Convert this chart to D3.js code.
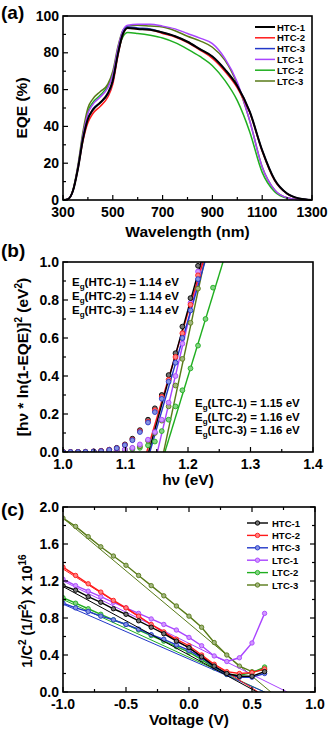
<!DOCTYPE html>
<html>
<head>
<meta charset="utf-8">
<script src="https://cdn.jsdelivr.net/npm/d3@7"></script>
<style>
  body { margin: 0; background: #fff; }
  svg text { font-family: Arial, "Liberation Sans", sans-serif; font-weight: bold; }
</style>
</head>
<body>
<div id="chart"></div>
<script>
// series names and colours
var names = ["HTC-1", "HTC-2", "HTC-3", "LTC-1", "LTC-2", "LTC-3"];
var colors = ["#000000", "#ff1a1a", "#2238c8", "#a944ff", "#1fae1f", "#587a18"];

// (a) EQE spectra
var wavelength = [300, 320, 340, 360, 380, 400, 420, 450, 480, 500, 520, 540, 560, 600, 650, 700, 750, 800, 850, 900, 950, 1000, 1050, 1100, 1150, 1200, 1250, 1300];
var eqeHTC1 = [0, 0.5, 5, 17, 33, 44, 49, 53, 58, 65, 79, 90, 93.5, 93, 92.5, 91, 89, 86, 82, 78, 71, 62, 48, 27, 11, 3.5, 0.8, 0];
var eqeHTC2 = [0, 0.5, 5, 17, 32, 42, 47, 51, 56, 63, 78, 90, 93.5, 93, 92.5, 90.5, 88.5, 85.5, 81.5, 77, 70, 61, 47.5, 26.5, 10.5, 3.3, 0.7, 0];
var eqeHTC3 = [0, 0.5, 5, 17, 33, 44, 49.5, 53, 57.5, 64.5, 79, 90.5, 94, 93.5, 93, 91, 89, 86, 82, 78, 71, 62, 48, 27, 11, 3.5, 0.8, 0];
var eqeLTC1 = [0, 0.5, 5, 18, 35, 47, 52, 56, 61, 68, 82, 92, 95, 95.5, 95.5, 94.5, 93, 90.5, 88, 85, 77, 64, 43, 18, 5.5, 1.2, 0.2, 0];
var eqeLTC2 = [0, 0.5, 5, 18, 35, 48, 53, 57, 62, 68, 80, 88.5, 91, 90.5, 89.5, 88, 85.5, 82, 78, 73, 65, 54, 37, 15, 4.5, 1, 0.2, 0];
var eqeLTC3 = [0, 0.5, 5.5, 19, 37, 50, 55, 59, 63, 70, 83, 92, 94.5, 95, 94.5, 94, 92, 89, 86.5, 83, 76, 63, 43, 18, 5.5, 1.2, 0.2, 0];

// (b) band gap plot
var photonE = [1.000, 1.012, 1.024, 1.036, 1.049, 1.061, 1.074, 1.086, 1.099, 1.111, 1.123, 1.136, 1.147, 1.158, 1.169, 1.180, 1.191, 1.204, 1.216, 1.228, 1.240];
var tHTC1 = [0, 0, 0, 0.001, 0.003, 0.006, 0.012, 0.022, 0.04, 0.07, 0.115, 0.17, 0.23, 0.30, 0.405, 0.52, 0.66, 0.81, 0.98];
var tHTC2 = [0, 0, 0, 0.001, 0.003, 0.006, 0.012, 0.02, 0.037, 0.065, 0.11, 0.16, 0.22, 0.29, 0.38, 0.50, 0.625, 0.775, 0.93];
var tHTC3 = [0, 0, 0, 0.001, 0.003, 0.005, 0.011, 0.02, 0.036, 0.062, 0.105, 0.155, 0.21, 0.28, 0.37, 0.47, 0.60, 0.745, 0.91];
var tLTC1 = [0, 0, 0, 0, 0.001, 0.002, 0.004, 0.008, 0.014, 0.022, 0.04, 0.065, 0.105, 0.17, 0.26, 0.40, 0.57, 0.785, 0.95];
var tLTC2 = [0, 0, 0, 0, 0.001, 0.002, 0.004, 0.006, 0.01, 0.015, 0.022, 0.035, 0.055, 0.11, 0.17, 0.24, 0.325, 0.44, 0.56, 0.70, 0.865];
var tLTC3 = [0, 0, 0, 0, 0.001, 0.002, 0.004, 0.007, 0.012, 0.02, 0.03, 0.06, 0.10, 0.165, 0.24, 0.35, 0.49, 0.68, 0.86];
// linear fits: x at y=0 and x at y=1
var fitFrom = [1.137, 1.134, 1.139, 1.151, 1.163, 1.161];
var fitTo = [1.221, 1.224, 1.227, 1.223, 1.256, 1.226];
var egHTC = ["1.14", "1.14", "1.14"];
var egLTC = ["1.15", "1.16", "1.16"];

// (c) Mott-Schottky
var voltage = [-1.0, -0.9, -0.8, -0.7, -0.6, -0.5, -0.4, -0.3, -0.2, -0.1, 0.0, 0.1, 0.2, 0.3, 0.4, 0.5, 0.6];
var msHTC1 = [1.15, 1.10, 1.03, 0.97, 0.90, 0.84, 0.77, 0.70, 0.63, 0.55, 0.48, 0.38, 0.28, 0.20, 0.17, 0.17, 0.22];
var msHTC2 = [1.35, 1.26, 1.17, 1.08, 0.99, 0.91, 0.82, 0.73, 0.65, 0.57, 0.50, 0.40, 0.30, 0.22, 0.20, 0.21, 0.25];
var msHTC3 = [0.96, 0.91, 0.87, 0.82, 0.78, 0.73, 0.68, 0.62, 0.57, 0.51, 0.45, 0.37, 0.27, 0.19, 0.16, 0.16, 0.20];
var msLTC1 = [1.22, 1.15, 1.09, 1.03, 0.97, 0.91, 0.85, 0.79, 0.73, 0.67, 0.59, 0.50, 0.39, 0.33, 0.37, 0.53, 0.85];
var msLTC2 = [1.02, 0.96, 0.90, 0.84, 0.78, 0.73, 0.67, 0.61, 0.55, 0.49, 0.43, 0.35, 0.26, 0.19, 0.18, 0.21, 0.27];
var msLTC3 = [1.88, 1.79, 1.68, 1.57, 1.47, 1.37, 1.26, 1.15, 1.04, 0.93, 0.82, 0.70, 0.535, 0.40, 0.28, 0.22, 0.24];
// linear fits: value at -1 V and intercept voltage
var msFitStart = [1.14, 1.33, 0.95, 1.20, 1.00, 1.88];
var msFitEnd = [0.54, 0.55, 0.60, 0.78, 0.60, 0.65];

var W = 331, H = 730;
var svg = d3.select("#chart").append("svg")
  .attr("width", W)
  .attr("height", H);
svg.append("rect").attr("width", W).attr("height", H).attr("fill", "#fff");

function fmt1(v) { return d3.format(".1f")(v).replace("\u2212", "-"); }

// draws box, inward ticks and labels
function frame(g, x, y, xt, xm, yt, ym, fmtX, fmtY, mirror)
{
  var x0 = x.range()[0], x1 = x.range()[1], y0 = y.range()[0], y1 = y.range()[1];
  xm.forEach(function(v) {
    var big = xt.indexOf(v) >= 0;
    var L = big ? 5 : 3;
    g.append("line").attr("x1", x(v)).attr("x2", x(v)).attr("y1", y0).attr("y2", y0 - L)
      .attr("stroke", "#000").attr("stroke-width", 1.2);
    if (mirror) g.append("line").attr("x1", x(v)).attr("x2", x(v)).attr("y1", y1).attr("y2", y1 + L)
      .attr("stroke", "#000").attr("stroke-width", 1.2);
  });
  ym.forEach(function(v) {
    var big = yt.indexOf(v) >= 0;
    var L = big ? 5 : 3;
    g.append("line").attr("x1", x0).attr("x2", x0 + L).attr("y1", y(v)).attr("y2", y(v))
      .attr("stroke", "#000").attr("stroke-width", 1.2);
    if (mirror) g.append("line").attr("x1", x1).attr("x2", x1 - L).attr("y1", y(v)).attr("y2", y(v))
      .attr("stroke", "#000").attr("stroke-width", 1.2);
  });
  xt.forEach(function(v) {
    g.append("text").attr("x", x(v)).attr("y", y0 + 17).attr("text-anchor", "middle")
      .attr("font-size", 14).text(fmtX(v));
  });
  yt.forEach(function(v) {
    g.append("text").attr("x", x0 - 4).attr("y", y(v) + 4.5).attr("text-anchor", "end")
      .attr("font-size", 14).text(fmtY(v));
  });
  g.append("rect").attr("x", x0).attr("y", y1).attr("width", x1 - x0).attr("height", y0 - y1)
    .attr("fill", "none").attr("stroke", "#000").attr("stroke-width", 1.6);
}

function lighten(c) { return d3.interpolateRgb(c, "#fff")(0.45); }

// ---------- (a) ----------
var ga = svg.append("g");
var xa = d3.scaleLinear().domain([300, 1300]).range([63, 312]);
var ya = d3.scaleLinear().domain([0, 100]).range([200, 16]);
var eqe = [eqeHTC1, eqeHTC2, eqeHTC3, eqeLTC1, eqeLTC2, eqeLTC3];
var lineA = d3.line().curve(d3.curveMonotoneX)
  .x(function(d, i) { return xa(wavelength[i]); })
  .y(function(d) { return ya(d); });
var drawOrder = [4, 5, 3, 1, 2, 0];
drawOrder.forEach(function(k) {
  ga.append("path").attr("d", lineA(eqe[k])).attr("fill", "none")
    .attr("stroke", colors[k]).attr("stroke-width", k == 0 ? 2 : 1.5);
});
frame(ga, xa, ya, [300, 500, 700, 900, 1100, 1300], d3.range(300, 1301, 100),
  [0, 20, 40, 60, 80, 100], d3.range(0, 101, 10), d3.format("d"), d3.format("d"), false);
names.forEach(function(n, i) {
  var yy = 27 + i * 10.8;
  ga.append("line").attr("x1", 255).attr("x2", 275).attr("y1", yy).attr("y2", yy)
    .attr("stroke", colors[i]).attr("stroke-width", i == 0 ? 2 : 1.5);
  ga.append("text").attr("x", 277).attr("y", yy + 3.5).attr("font-size", 9.5).text(n);
});
ga.append("text").attr("x", (63 + 312) / 2).attr("y", 237).attr("text-anchor", "middle")
  .attr("font-size", 15.5).text("Wavelength (nm)");
ga.append("text").attr("transform", "translate(27,108) rotate(-90)").attr("text-anchor", "middle")
  .attr("font-size", 15.5).text("EQE (%)");
ga.append("text").attr("x", 1).attr("y", 19).attr("font-size", 19).text("(a)");

// ---------- (b) ----------
var gb = svg.append("g");
var xb = d3.scaleLinear().domain([1.0, 1.4]).range([63, 313]);
var yb = d3.scaleLinear().domain([0, 1.0]).range([452, 262]);
svg.append("clipPath").attr("id", "clipB").append("rect")
  .attr("x", 63).attr("y", 262).attr("width", 250).attr("height", 190);
var tauc = [tHTC1, tHTC2, tHTC3, tLTC1, tLTC2, tLTC3];
var pb = gb.append("g").attr("clip-path", "url(#clipB)");
[4, 5, 3, 2, 1, 0].forEach(function(k) {
  pb.append("line")
    .attr("x1", xb(fitFrom[k])).attr("y1", yb(0))
    .attr("x2", xb(fitTo[k])).attr("y2", yb(1))
    .attr("stroke", colors[k]).attr("stroke-width", 1.4);
});
[4, 5, 3, 0, 1, 2].forEach(function(k) {
  pb.selectAll(null).data(tauc[k]).enter().append("circle")
    .attr("cx", function(d, i) { return xb(photonE[i]); })
    .attr("cy", function(d) { return yb(d); })
    .attr("r", 2.4)
    .attr("fill", lighten(colors[k]))
    .attr("stroke", colors[k]).attr("stroke-width", 0.9);
});
frame(gb, xb, yb, [1.0, 1.1, 1.2, 1.3, 1.4], d3.range(0, 9).map(function(i) { return +(1 + i * 0.05).toFixed(2); }),
  [0, 0.2, 0.4, 0.6, 0.8, 1.0], d3.range(0, 11).map(function(i) { return +(i * 0.1).toFixed(1); }),
  fmt1, fmt1, false);

function egLabel(g, x, y, name, val)
{
  var t = g.append("text").attr("x", x).attr("y", y).attr("font-size", 11.5);
  t.append("tspan").text("E");
  t.append("tspan").attr("font-size", 8).attr("dy", 3).text("g");
  t.append("tspan").attr("dy", -3).text("(" + name + ") = " + val + " eV");
}
egHTC.forEach(function(v, i) { egLabel(gb, 72, 286 + i * 14, names[i], v); });
egLTC.forEach(function(v, i) { egLabel(gb, 195, 407 + i * 13.5, names[i + 3], v); });

gb.append("text").attr("x", (63 + 313) / 2).attr("y", 485).attr("text-anchor", "middle")
  .attr("font-size", 15.5).text("h\u03bd (eV)");
var yl = gb.append("text").attr("transform", "translate(28,357) rotate(-90)").attr("text-anchor", "middle")
  .attr("font-size", 15.5);
yl.append("tspan").text("[h\u03bd * ln(1-EQE)]");
yl.append("tspan").attr("font-size", 10).attr("dy", -6).text("2");
yl.append("tspan").attr("dy", 6).text(" (eV");
yl.append("tspan").attr("font-size", 10).attr("dy", -6).text("2");
yl.append("tspan").attr("dy", 6).text(")");
gb.append("text").attr("x", 1).attr("y", 257).attr("font-size", 19).text("(b)");

// ---------- (c) ----------
var gc = svg.append("g");
var xc = d3.scaleLinear().domain([-1.0, 1.0]).range([63, 315]);
var yc = d3.scaleLinear().domain([0, 2.0]).range([692, 507]);
var ms = [msHTC1, msHTC2, msHTC3, msLTC1, msLTC2, msLTC3];
svg.append("clipPath").attr("id", "clipC").append("rect")
  .attr("x", 63).attr("y", 507).attr("width", 252).attr("height", 185);
var pc = gc.append("g").attr("clip-path", "url(#clipC)");
var lineC = d3.line()
  .x(function(d, i) { return xc(voltage[i]); })
  .y(function(d) { return yc(d); });
[5, 4, 3, 2, 1, 0].forEach(function(k) {
  pc.append("line")
    .attr("x1", xc(-1)).attr("y1", yc(msFitStart[k]))
    .attr("x2", xc(msFitEnd[k])).attr("y2", yc(0))
    .attr("stroke", colors[k]).attr("stroke-width", 1);
  pc.append("path").attr("d", lineC(ms[k])).attr("fill", "none")
    .attr("stroke", colors[k]).attr("stroke-width", 1.4);
  pc.selectAll(null).data(ms[k]).enter().append("circle")
    .attr("cx", function(d, i) { return xc(voltage[i]); })
    .attr("cy", function(d) { return yc(d); })
    .attr("r", 2.2)
    .attr("fill", lighten(colors[k]))
    .attr("stroke", colors[k]).attr("stroke-width", 0.9);
});
frame(gc, xc, yc, [-1.0, -0.5, 0.0, 0.5, 1.0], d3.range(0, 9).map(function(i) { return -1 + i * 0.25; }),
  [0, 0.4, 0.8, 1.2, 1.6, 2.0], d3.range(0, 11).map(function(i) { return +(i * 0.2).toFixed(1); }),
  fmt1, fmt1, true);
names.forEach(function(n, i) {
  var yy = 523 + i * 12.4;
  gc.append("line").attr("x1", 247).attr("x2", 268).attr("y1", yy).attr("y2", yy)
    .attr("stroke", colors[i]).attr("stroke-width", 1.4);
  gc.append("circle").attr("cx", 257.5).attr("cy", yy).attr("r", 2.2)
    .attr("fill", lighten(colors[i])).attr("stroke", colors[i]).attr("stroke-width", 0.9);
  gc.append("text").attr("x", 272).attr("y", yy + 3.5).attr("font-size", 9.5).text(n);
});
gc.append("text").attr("x", (63 + 315) / 2).attr("y", 725).attr("text-anchor", "middle")
  .attr("font-size", 15.5).text("Voltage (V)");
var yl2 = gc.append("text").attr("transform", "translate(32,611) rotate(-90)").attr("text-anchor", "middle")
  .attr("font-size", 14.5);
yl2.append("tspan").text("1/C");
yl2.append("tspan").attr("font-size", 10).attr("dy", -6).text("2");
yl2.append("tspan").attr("dy", 6).text(" (1/F");
yl2.append("tspan").attr("font-size", 10).attr("dy", -6).text("2");
yl2.append("tspan").attr("dy", 6).text(") X 10");
yl2.append("tspan").attr("font-size", 10).attr("dy", -6).text("16");
gc.append("text").attr("x", 1).attr("y", 516).attr("font-size", 19).text("(c)");
</script>
</body>
</html>
